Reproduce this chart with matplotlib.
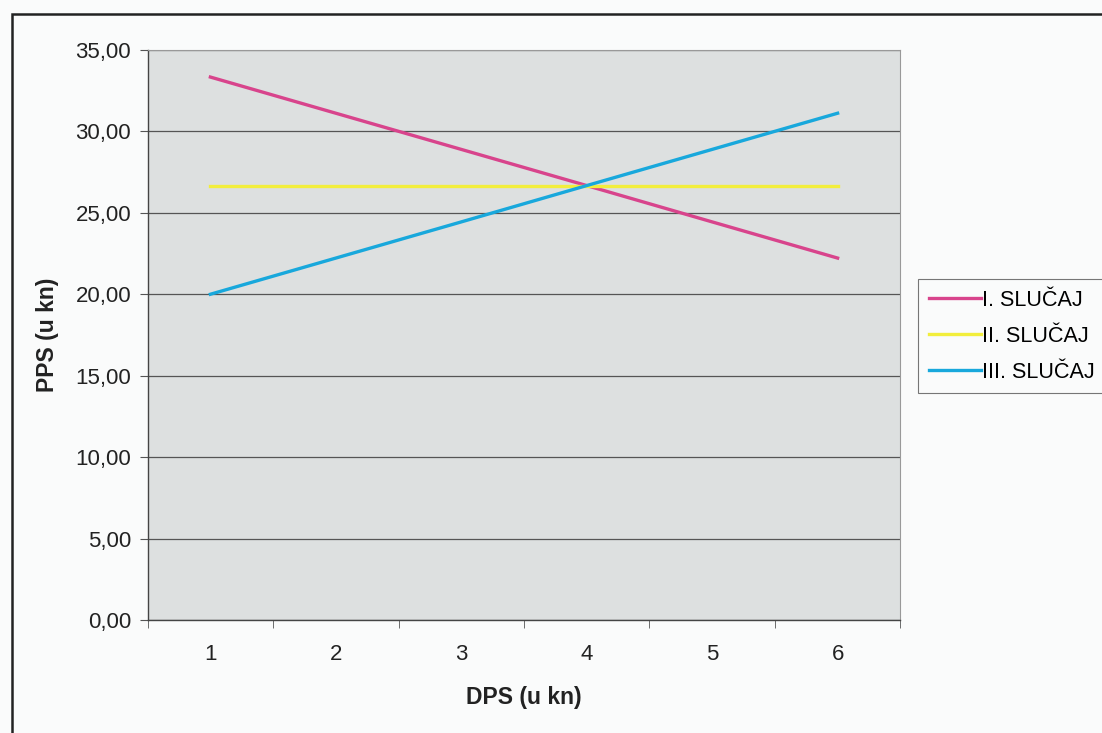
import matplotlib.pyplot as plt
from matplotlib.patches import Rectangle
from matplotlib.ticker import FuncFormatter, FixedLocator

# DPS categories and PPS values (u kn)
dps = [1, 2, 3, 4, 5, 6]
slucaj_1 = [33.33, 31.11, 28.89, 26.67, 24.44, 22.22]
slucaj_2 = [26.67, 26.67, 26.67, 26.67, 26.67, 26.67]
slucaj_3 = [20.00, 22.22, 24.44, 26.67, 28.89, 31.11]
series_names = ["I. SLUČAJ", "II. SLUČAJ", "III. SLUČAJ"]
y_ticks = [0, 5, 10, 15, 20, 25, 30, 35]

plt.rcParams["font.family"] = ["Liberation Sans", "DejaVu Sans"]

fig = plt.figure(figsize=(11.02, 7.33), dpi=100)
fig.patch.set_facecolor("#fafbfb")

# outer chart border (only left and top edges visible in the scan)
fig.patches.append(Rectangle((0.011, -0.05), 1.2, 1.031, transform=fig.transFigure,
                             fill=False, edgecolor="#222222", linewidth=1.8))

ax = fig.add_axes([0.134, 0.154, 0.683, 0.778])
ax.set_facecolor("#dde0e0")

colors = ["#d8448c", "#f2ee3c", "#18a8dc"]
for vals, name, c in zip([slucaj_1, slucaj_2, slucaj_3], series_names, colors):
    ax.plot(dps, vals, color=c, linewidth=2.4, label=name)

ax.set_xlim(0.5, 6.5)
ax.set_ylim(0, 35)
ax.set_yticks(y_ticks)
ax.yaxis.set_major_formatter(FuncFormatter(lambda v, p: f"{v:.2f}".replace(".", ",")))
ax.yaxis.grid(True, color="#555555", linewidth=0.9)
ax.set_axisbelow(True)

# category axis: tick marks between categories, labels centred
ax.set_xticks(dps)
ax.set_xticklabels([str(d) for d in dps])
ax.tick_params(axis="x", which="major", length=0, pad=17)
ax.xaxis.set_minor_locator(FixedLocator([0.5, 1.5, 2.5, 3.5, 4.5, 5.5, 6.5]))
ax.tick_params(axis="x", which="minor", length=6, color="#555555")
ax.tick_params(axis="y", length=6, color="#555555", pad=6)
ax.tick_params(labelsize=16, labelcolor="#222222")

for side in ["top", "right"]:
    ax.spines[side].set_color("#999999")
    ax.spines[side].set_linewidth(0.8)
for side in ["left", "bottom"]:
    ax.spines[side].set_color("#444444")
    ax.spines[side].set_linewidth(1.0)

ax.set_xlabel("DPS (u kn)", fontsize=16.5, fontweight="bold", labelpad=15, color="#222222")
ax.set_ylabel("PPS (u kn)", fontsize=16.5, fontweight="bold", labelpad=12, color="#222222")

leg = ax.legend(loc="center left", bbox_to_anchor=(1.024, 0.498), fontsize=15.5,
                frameon=True, fancybox=False, handlelength=2.4, handletextpad=0.05,
                borderpad=0.5, labelspacing=0.7, borderaxespad=0)
leg.get_frame().set_edgecolor("#555555")
leg.get_frame().set_linewidth(0.8)
leg.get_frame().set_facecolor("#fafbfb")

fig.savefig("out.png", dpi=100, facecolor=fig.get_facecolor())
